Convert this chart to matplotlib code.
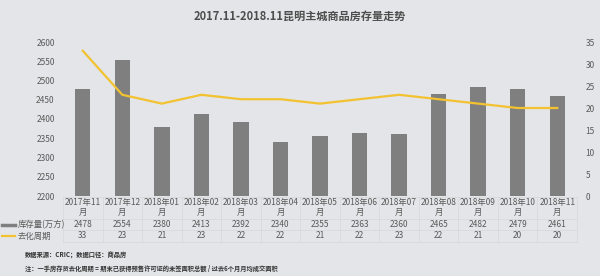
import matplotlib
matplotlib.use("Agg")
import matplotlib.pyplot as plt
from matplotlib.lines import Line2D
import matplotlib.transforms as mtransforms

plt.rcParams['font.family'] = ['Noto Sans CJK SC', 'DejaVu Sans']

months = ["2017年11\n月", "2017年12\n月", "2018年01\n月", "2018年02\n月", "2018年03\n月",
          "2018年04\n月", "2018年05\n月", "2018年06\n月", "2018年07\n月", "2018年08\n月",
          "2018年09\n月", "2018年10\n月", "2018年11\n月"]
inventory = [2478, 2554, 2380, 2413, 2392, 2340, 2355, 2363, 2360, 2465, 2482, 2479, 2461]
cycle = [33, 23, 21, 23, 22, 22, 21, 22, 23, 22, 21, 20, 20]

bg = "#e4e5e8"
bar_color = "#7f7f7f"
line_color = "#f2c230"
text_color = "#5a5a5a"

fig = plt.figure(figsize=(6, 2.76), dpi=100, facecolor=bg)
ax = fig.add_axes([63/600, 1-196/276, (577-63)/600, (196-42)/276])
ax.set_facecolor(bg)
x = list(range(len(months)))
ax.bar(x, [v - 2200 for v in inventory], bottom=2200, width=0.39, color=bar_color, zorder=2)
ax.set_ylim(2200, 2600)
ax.set_xlim(-0.5, len(months) - 0.5)
ax.set_yticks(range(2200, 2601, 50))
ax.tick_params(axis='y', labelsize=6, colors=text_color, length=0, pad=6)
ax.set_xticks([])
for s in ax.spines.values():
    s.set_visible(False)

ax2 = ax.twinx()
ax2.plot(x, cycle, color=line_color, lw=1.6, zorder=3)
ax2.set_ylim(0, 35)
ax2.set_yticks(range(0, 36, 5))
ax2.tick_params(axis='y', labelsize=6, colors=text_color, length=0, pad=6)
for s in ax2.spines.values():
    s.set_visible(False)

# table below
trans = mtransforms.blended_transform_factory(ax.transData, fig.transFigure)
def fy(py):
    return 1 - py / 276

grid_c = "#d6d7da"
row_tops = [197, 219, 230, 242]
for py in row_tops:
    fig.add_artist(Line2D([63/600, 577/600], [fy(py), fy(py)], color=grid_c, lw=0.5))
for i in range(len(months) + 1):
    xx = i - 0.5
    ax.plot([xx, xx], [fy(197), fy(242)], transform=trans, color=grid_c, lw=0.5, clip_on=False)

for i, m in enumerate(months):
    ax.text(i, fy(207.5), m, transform=trans, ha='center', va='center',
            fontsize=6, color=text_color, linespacing=1.0)
    ax.text(i, fy(224.5), str(inventory[i]), transform=trans, ha='center', va='center',
            fontsize=6, color=text_color)
    ax.text(i, fy(236), str(cycle[i]), transform=trans, ha='center', va='center',
            fontsize=6, color=text_color)

# legend rows
fig.add_artist(Line2D([2/600, 15/600], [fy(224.5), fy(224.5)], color=bar_color, lw=2.5))
fig.add_artist(Line2D([2/600, 15/600], [fy(236), fy(236)], color=line_color, lw=1.6))
fig.text(18/600, fy(224.5), "库存量(万方)", fontsize=6, color=text_color, va='center', ha='left')
fig.text(18/600, fy(236), "去化周期", fontsize=6, color=text_color, va='center', ha='left')

fig.text(0.5, fy(16), "2017.11-2018.11昆明主城商品房存量走势", fontsize=8,
         fontweight='bold', color="#4d4d4d", ha='center', va='center')
fig.text(25/600, fy(255), "数据来源：CRIC；数据口径：商品房", fontsize=4.5,
         color="#333333", ha='left', va='center', fontweight='bold')
fig.text(25/600, fy(268), "注：一手房存货去化周期 = 期末已获得预售许可证的未签面积总额 / 过去6个月月均成交面积",
         fontsize=4.5, color="#333333", ha='left', va='center', fontweight='bold')

fig.savefig("out.png", dpi=100, facecolor=bg)
